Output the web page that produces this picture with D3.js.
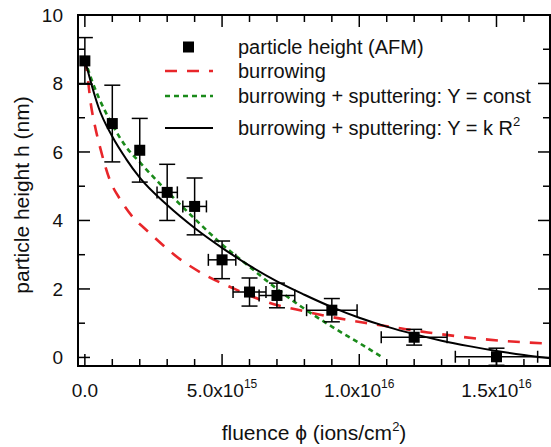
<!DOCTYPE html>
<html><head><meta charset="utf-8">
<script src="https://cdn.jsdelivr.net/npm/d3@7"></script>
<style>body{margin:0;background:#fff}svg{display:block;font-family:"Liberation Sans",Arial,sans-serif}</style>
</head><body><svg id="c" width="551" height="447"></svg>
<script>
// fluence in units of 1e15 ions/cm^2, height in nm
const fluence = [0, 1, 2, 3, 4, 5, 6, 7, 9, 12, 15];
const height  = [8.66, 6.83, 6.05, 4.82, 4.41, 2.85, 1.91, 1.81, 1.38, 0.59, 0.02];
const heightErr = [0.68, 1.12, 0.93, 0.82, 0.83, 0.55, 0.41, 0.36, 0.34, 0.23, 0.25];
const fluenceErr = [0, 0, 0, 0.37, 0.43, 0.5, 0.6, 0.65, 0.92, 1.2, 1.5];

const burrowing = [[0,8.7],[0.1,8.2],[0.2,7.5],[0.37,6.75],[0.55,6.15],[0.9,5.2],[1.3,4.6],[1.8,4.05],[2.2,3.75],[3.5,2.85],[4.4,2.4],[5.4,2.02],[6.7,1.6],[8,1.35],[9,1.18],[10.3,1.0],[11.5,0.85],[12.5,0.73],[14.7,0.52],[17,0.4]];
const sputterConst = [[0,8.7],[0.25,8.1],[0.5,7.6],[1,6.8],[1.5,6.15],[2,5.7],[3,4.85],[4,4.05],[5,3.3],[6,2.65],[7,2.0],[8,1.42],[9,0.9],[10,0.42],[10.85,0.0]];
const sputterKR2 = [[0,8.7],[0.25,7.95],[0.5,7.3],[1,6.45],[1.5,5.8],[2,5.25],[3,4.45],[4,3.78],[5,3.2],[6,2.68],[7,2.22],[8,1.83],[9,1.47],[10,1.16],[11,0.9],[12,0.68],[13,0.49],[14,0.33],[15,0.19],[16,0.07],[17,-0.03]];

const xMajor = [0, 5, 10, 15];
const xMajorLabels = [["0.0",""],["5.0x10","15"],["1.0x10","16"],["1.5x10","16"]];
const yMajor = [0, 2, 4, 6, 8, 10];
const legendLabels = ["particle height (AFM)", "burrowing", "burrowing + sputtering: Y = const", "burrowing + sputtering: Y = k R"];

const svg = d3.select("#c");
const L = 78, R = 550, T = 15, B = 366;
const x = d3.scaleLinear().domain([-0.25, 16.95]).range([L, R]);
const y = d3.scaleLinear().domain([-0.25, 10]).range([B, T]);

const defs = svg.append("defs");
defs.append("clipPath").attr("id","clip").append("rect").attr("x",L).attr("y",T).attr("width",R-L).attr("height",B-T);

const plot = svg.append("g").attr("clip-path","url(#clip)");
const line = d3.line().x(d=>x(d[0])).y(d=>y(d[1])).curve(d3.curveMonotoneX);

const RED = "#e8262a", GREEN = "#1a8a1a";
plot.append("path").datum(burrowing).attr("d",line).attr("fill","none").attr("stroke",RED).attr("stroke-width",2.6).attr("stroke-dasharray","12,10");
plot.append("path").datum(sputterConst).attr("d",line).attr("fill","none").attr("stroke",GREEN).attr("stroke-width",2.6).attr("stroke-dasharray","5,4");
plot.append("path").datum(sputterKR2).attr("d",line).attr("fill","none").attr("stroke","#000").attr("stroke-width",2);

// error bars and markers
const pts = fluence.map((f,i)=>({f, h:height[i], eh:heightErr[i], ef:fluenceErr[i]}));
const eb = plot.append("g").attr("stroke","#000").attr("stroke-width",1.5);
pts.forEach(p=>{
  const cx = x(p.f), cy = y(p.h);
  eb.append("line").attr("x1",cx).attr("x2",cx).attr("y1",y(p.h+p.eh)).attr("y2",y(p.h-p.eh));
  eb.append("line").attr("x1",cx-8).attr("x2",cx+8).attr("y1",y(p.h+p.eh)).attr("y2",y(p.h+p.eh));
  eb.append("line").attr("x1",cx-8).attr("x2",cx+8).attr("y1",y(p.h-p.eh)).attr("y2",y(p.h-p.eh));
  if (p.ef>0){
    eb.append("line").attr("x1",x(p.f-p.ef)).attr("x2",x(p.f+p.ef)).attr("y1",cy).attr("y2",cy);
    eb.append("line").attr("x1",x(p.f-p.ef)).attr("x2",x(p.f-p.ef)).attr("y1",cy-6).attr("y2",cy+6);
    eb.append("line").attr("x1",x(p.f+p.ef)).attr("x2",x(p.f+p.ef)).attr("y1",cy-6).attr("y2",cy+6);
  }
});
plot.append("g").selectAll("rect").data(pts).join("rect")
  .attr("x",d=>x(d.f)-5.5).attr("y",d=>y(d.h)-5.5).attr("width",11).attr("height",11).attr("fill","#000");

// axes (ticks inward)
const xMinor = d3.range(0,17,1).filter(v=>!xMajor.includes(v));
const yMinor = d3.range(1,10,2);
const ax = svg.append("g").attr("stroke","#000").attr("stroke-width",1.5);
const tickLen = {maj:12, min:7};
xMajor.forEach(v=>{ ax.append("line").attr("x1",x(v)).attr("x2",x(v)).attr("y1",B).attr("y2",B-tickLen.maj);
                    ax.append("line").attr("x1",x(v)).attr("x2",x(v)).attr("y1",T).attr("y2",T+tickLen.maj); });
xMinor.forEach(v=>{ ax.append("line").attr("x1",x(v)).attr("x2",x(v)).attr("y1",B).attr("y2",B-tickLen.min);
                    ax.append("line").attr("x1",x(v)).attr("x2",x(v)).attr("y1",T).attr("y2",T+tickLen.min); });
yMajor.forEach(v=>{ ax.append("line").attr("x1",L).attr("x2",L+tickLen.maj).attr("y1",y(v)).attr("y2",y(v));
                    ax.append("line").attr("x1",R).attr("x2",R-tickLen.maj).attr("y1",y(v)).attr("y2",y(v)); });
yMinor.forEach(v=>{ ax.append("line").attr("x1",L).attr("x2",L+tickLen.min).attr("y1",y(v)).attr("y2",y(v));
                    ax.append("line").attr("x1",R).attr("x2",R-tickLen.min).attr("y1",y(v)).attr("y2",y(v)); });
svg.append("rect").attr("x",L).attr("y",T).attr("width",R-L).attr("height",B-T).attr("fill","none").attr("stroke","#000").attr("stroke-width",2);

// tick labels
svg.append("g").selectAll("text").data(yMajor).join("text")
  .attr("x",63).attr("y",d=>y(d)).attr("dy","0.35em").attr("text-anchor","end")
  .attr("font-size",19).attr("fill","#111").text(d=>d);
const xl = svg.append("g").selectAll("text").data(xMajor).join("text")
  .attr("x",d=>x(d)).attr("y",397).attr("text-anchor","middle").attr("font-size",19).attr("fill","#111");
xl.append("tspan").text((d,i)=>xMajorLabels[i][0]);
xl.append("tspan").attr("dy",-9).attr("font-size",12).text((d,i)=>xMajorLabels[i][1]);

// axis titles
const xt = svg.append("text").attr("x",314).attr("y",440).attr("text-anchor","middle").attr("font-size",21).attr("fill","#111");
xt.append("tspan").text("fluence \u03D5 (ions/cm");
xt.append("tspan").attr("dy",-9).attr("font-size",13).text("2");
xt.append("tspan").attr("dy",9).text(")");
svg.append("text").attr("transform","translate(29,195) rotate(-90)").attr("text-anchor","middle").attr("font-size",21).attr("fill","#111").text("particle height h (nm)");

// legend
const ly = [47, 71, 96, 128];
const lg = svg.append("g");
lg.append("rect").attr("x",183).attr("y",ly[0]-5.5).attr("width",11).attr("height",11).attr("fill","#000");
lg.append("line").attr("x1",165).attr("x2",213).attr("y1",ly[1]).attr("y2",ly[1]).attr("stroke",RED).attr("stroke-width",2.6).attr("stroke-dasharray","12,10");
lg.append("line").attr("x1",165).attr("x2",213).attr("y1",ly[2]).attr("y2",ly[2]).attr("stroke",GREEN).attr("stroke-width",2.6).attr("stroke-dasharray","5,4");
lg.append("line").attr("x1",165).attr("x2",213).attr("y1",ly[3]).attr("y2",ly[3]).attr("stroke","#000").attr("stroke-width",2);
legendLabels.forEach((t,i)=>{
  const tx = lg.append("text").attr("x",238).attr("y",ly[i]).attr("dy","0.35em").attr("font-size",20).attr("fill","#111");
  tx.append("tspan").text(t);
  if (i===3) tx.append("tspan").attr("dy",-9).attr("font-size",13).text("2");
});
</script></body></html>
